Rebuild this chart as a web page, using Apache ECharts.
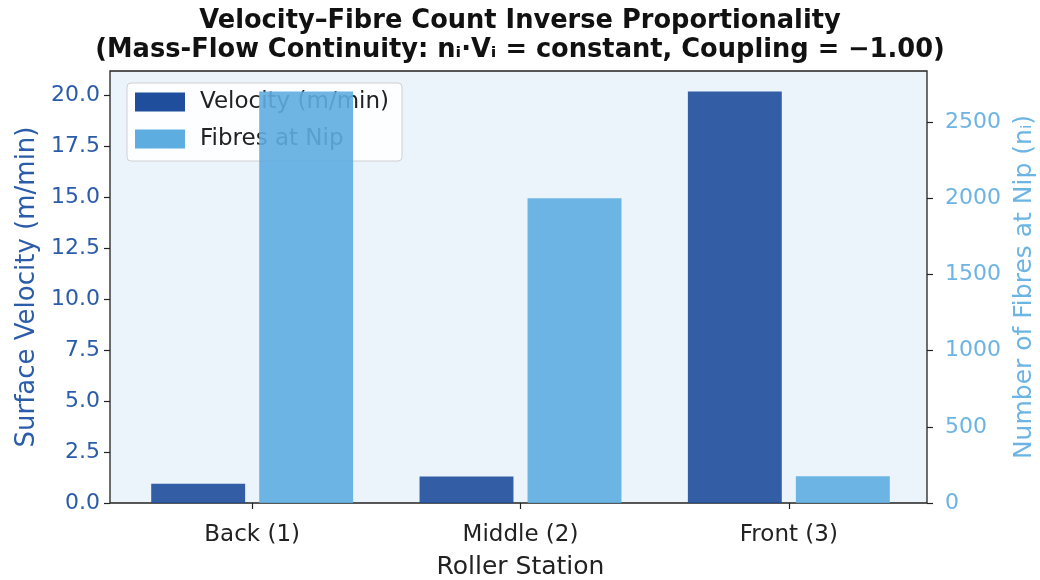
<!DOCTYPE html>
<html>
<head>
<meta charset="utf-8">
<script src="https://cdn.jsdelivr.net/npm/echarts@6/dist/echarts.min.js"></script>
<style>
  html, body { margin: 0; padding: 0; background: #ffffff; }
  #chart { width: 1040px; height: 580px; }
</style>
</head>
<body>
<div id="chart"></div>
<script>
// Roller stations along the drafting zone
const stations = ['Back (1)', 'Middle (2)', 'Front (3)'];
// Surface velocity of each roller (m/min)
const velocity = [0.95, 1.3, 20.2];
// Number of fibres gripped at each nip
const fibres = [2700, 2000, 175];
// Axis tick values
const velocityTicks = [0, 2.5, 5, 7.5, 10, 12.5, 15, 17.5, 20];
const fibreTicks = [0, 500, 1000, 1500, 2000, 2500];

const FONT = 'DejaVu Sans';
const DARK_BLUE = '#1f4e9c';
const LIGHT_BLUE = '#5eade1';
const LEFT_TEXT = '#2a5caa';
const RIGHT_TEXT = '#6cb4e4';

// Plot frame and inner band area (category bands sit slightly inside the frame)
const frame = { left: 110, right: 927, top: 71, bottom: 503 };
const inset = { left: 8, right: 4 };
const W = 1040, H = 580;

const chart = echarts.init(document.getElementById('chart'), null, { renderer: 'canvas' });

chart.setOption({
  backgroundColor: '#ffffff',
  animation: false,
  title: {
    text: 'Velocity\u2013Fibre Count Inverse Proportionality\n(Mass-Flow Continuity: n\u1d62\u00b7V\u1d62 = constant, Coupling = \u22121.00)',
    left: 'center',
    top: 2,
    textStyle: {
      fontFamily: FONT, fontWeight: 'bold', fontSize: 25.7, lineHeight: 29, color: '#111'
    }
  },
  graphic: [{
    type: 'rect',
    z: -10,
    silent: true,
    shape: {
      x: frame.left, y: frame.top,
      width: frame.right - frame.left, height: frame.bottom - frame.top
    },
    style: { fill: '#ebf3fb', stroke: '#222', lineWidth: 1.3 }
  }],
  legend: {
    orient: 'vertical',
    left: 127,
    top: 83,
    z: 3,
    padding: [7, 13, 10, 8],
    itemGap: 13,
    itemWidth: 50,
    itemHeight: 19,
    backgroundColor: 'rgba(255,255,255,0.85)',
    borderColor: '#d0d0d0',
    borderWidth: 1,
    borderRadius: 4,
    icon: 'rect',
    textStyle: { fontFamily: FONT, fontSize: 23, lineHeight: 24, color: '#222', padding: [0, 0, 0, 10] },
    data: [
      { name: 'Velocity (m/min)', itemStyle: { color: DARK_BLUE, opacity: 1 } },
      { name: 'Fibres at Nip', itemStyle: { color: LIGHT_BLUE, opacity: 1 } }
    ]
  },
  grid: {
    left: frame.left + inset.left,
    right: W - frame.right + inset.right,
    top: frame.top,
    bottom: H - frame.bottom,
    containLabel: false,
    outerBoundsMode: 'none'
  },
  xAxis: {
    type: 'category',
    data: stations,
    axisLine: { show: false },
    axisTick: { show: true, alignWithLabel: true, length: 6, lineStyle: { color: '#222', width: 1.2 } },
    axisLabel: { fontFamily: FONT, fontSize: 23, color: '#222', margin: 21 },
    name: 'Roller Station',
    nameLocation: 'middle',
    nameGap: 52,
    nameTextStyle: { fontFamily: FONT, fontSize: 25, color: '#222' }
  },
  yAxis: [
    {
      type: 'value',
      min: 0,
      max: 21.2,
      offset: inset.left,
      axisLine: { show: false },
      axisTick: { show: true, length: 6, customValues: velocityTicks, lineStyle: { color: '#222', width: 1.2 } },
      axisLabel: {
        fontFamily: FONT, fontSize: 22, color: LEFT_TEXT, margin: 10,
        customValues: velocityTicks,
        formatter: v => v.toFixed(1)
      },
      splitLine: { show: false },
      name: 'Surface Velocity (m/min)',
      nameLocation: 'middle',
      nameGap: 67,
      nameTextStyle: { fontFamily: FONT, fontSize: 26, color: LEFT_TEXT }
    },
    {
      type: 'value',
      min: 0,
      max: 2835,
      position: 'right',
      offset: inset.right,
      axisLine: { show: false },
      axisTick: { show: true, length: 6, customValues: fibreTicks, lineStyle: { color: '#222', width: 1.2 } },
      axisLabel: {
        fontFamily: FONT, fontSize: 22, color: RIGHT_TEXT, margin: 18,
        customValues: fibreTicks,
        formatter: v => String(v)
      },
      splitLine: { show: false },
      name: 'Number of Fibres at Nip (n\u1d62)',
      nameLocation: 'middle',
      nameGap: 82,
      nameRotate: 90,
      nameTextStyle: { fontFamily: FONT, fontSize: 25, color: RIGHT_TEXT }
    }
  ],
  series: [
    {
      name: 'Velocity (m/min)',
      type: 'bar',
      yAxisIndex: 0,
      data: velocity,
      barWidth: '35%',
      barGap: '15%',
      z: 2,
      itemStyle: { color: DARK_BLUE, opacity: 0.9 }
    },
    {
      name: 'Fibres at Nip',
      type: 'bar',
      yAxisIndex: 1,
      data: fibres,
      barWidth: '35%',
      barGap: '15%',
      z: 6,
      itemStyle: { color: LIGHT_BLUE, opacity: 0.9 }
    }
  ]
});
</script>
</body>
</html>
